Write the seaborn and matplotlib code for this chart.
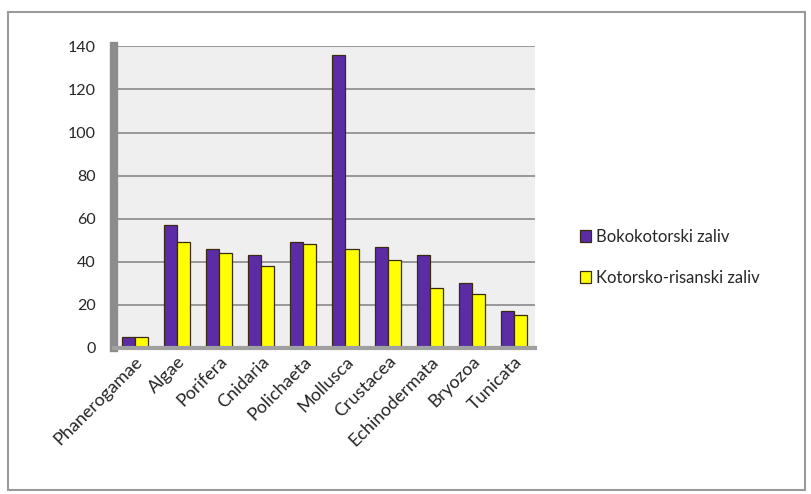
import numpy as np
import pandas as pd
import matplotlib
matplotlib.use("Agg")
import matplotlib.pyplot as plt
import seaborn as sns
from matplotlib.patches import Rectangle

# data
groups = ["Phanerogamae", "Algae", "Porifera", "Cnidaria", "Polichaeta",
          "Mollusca", "Crustacea", "Echinodermata", "Bryozoa", "Tunicata"]
boko = [5, 57, 46, 43, 49, 136, 47, 43, 30, 17]
kotor = [5, 49, 44, 38, 48, 46, 41, 28, 25, 15]
series = ["Bokokotorski zaliv", "Kotorsko-risanski zaliv"]
yticks = [0, 20, 40, 60, 80, 100, 120, 140]

df = pd.DataFrame({
    "grupa": groups * 2,
    "broj": boko + kotor,
    "zaliv": [series[0]] * len(groups) + [series[1]] * len(groups),
})

sns.set_style("white")
plt.rcParams["font.family"] = ["Lato", "DejaVu Sans"]

fig = plt.figure(figsize=(8.11, 4.94), dpi=100)
# outer grey frame like the excel chart area
fig.patches.append(Rectangle((0.01, 0.008), 0.982, 0.968, transform=fig.transFigure,
                             fill=False, edgecolor="#9a9a9a", linewidth=1.5))

ax = fig.add_axes([0.14, 0.296, 0.52, 0.61])
ax.set_facecolor("#efefef")
sns.barplot(data=df, x="grupa", y="broj", hue="zaliv",
            palette=["#5b2ca6", "#ffff00"], saturation=1, width=0.62, gap=0.0,
            edgecolor="#3a2a10", linewidth=0.9, ax=ax)

ax.set_ylim(0, 140)
ax.set_yticks(yticks)
ax.set_xlim(-0.5, len(groups) - 0.5)
ax.grid(axis="y", color="#8a8a8a", linewidth=1.2)
ax.set_axisbelow(True)
ax.set_xlabel("")
ax.set_ylabel("")
for s in ["top", "right"]:
    ax.spines[s].set_visible(False)
ax.spines["left"].set_color("#8c8c8c")
ax.spines["left"].set_linewidth(6)
ax.spines["bottom"].set_color("#a0a0a0")
ax.spines["bottom"].set_linewidth(3)
ax.tick_params(axis="y", length=5, color="#666666", labelsize=11.5, pad=8)
ax.set_xticks(np.arange(len(groups)) - 0.5, minor=True)
ax.tick_params(axis="x", which="major", length=0, labelsize=13, pad=4)
ax.tick_params(axis="x", which="minor", length=5, color="#666666")
plt.setp(ax.get_xticklabels(), rotation=45, ha="right", rotation_mode="anchor")

handles, labels = ax.get_legend_handles_labels()
ax.legend(handles, labels, loc="center left", bbox_to_anchor=(1.07, 0.30),
          frameon=False, fontsize=12, handlelength=0.7, handleheight=0.7,
          labelspacing=1.5, handletextpad=0.3)

fig.savefig("out.png", dpi=100)
